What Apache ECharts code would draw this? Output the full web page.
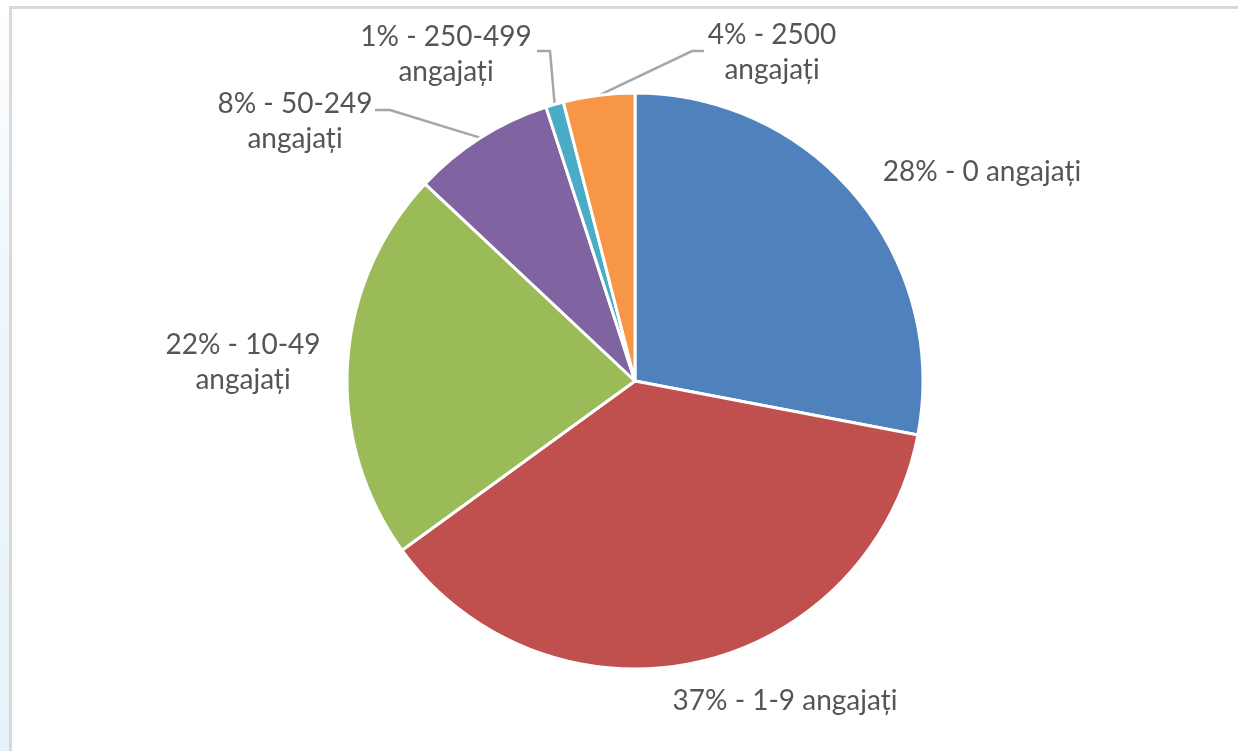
<!DOCTYPE html>
<html>
<head>
<meta charset="utf-8">
<script src="https://cdn.jsdelivr.net/npm/echarts@6/dist/echarts.min.js"></script>
<style>
  html, body { margin: 0; padding: 0; width: 1238px; height: 751px; overflow: hidden; background: #fff; }
  #strip { position: absolute; left: 0; top: 0; width: 9px; height: 751px;
           background: linear-gradient(to bottom, #ffffff 0%, #eef6fb 40%, #e6f2f9 100%); }
  #frame { position: absolute; left: 9px; top: 6px; width: 1229px; height: 745px;
           border-top: 3px solid #d9d9d9; border-left: 3px solid #d9d9d9; box-sizing: border-box; background: #fff; }
  #chart { position: absolute; left: 0; top: 0; width: 1238px; height: 751px; }
</style>
</head>
<body>
<div id="strip"></div>
<div id="frame"></div>
<div id="chart"></div>
<script>
// ---- data ----
const categories = ['0 angajați', '1-9 angajați', '10-49 angajați', '50-249 angajați', '250-499 angajați', '2500 angajați'];
const values = [28, 37, 22, 8, 1, 4];
const colors = ['#4f81bd', '#c0504d', '#9bbb59', '#8064a2', '#4bacc6', '#f79646'];
const wrapLabel = [false, false, true, true, true, true];

// ---- label layout config (label anchor, leader bend/end) ----
const labelPos = [
  { x: 982, y: 172 },
  { x: 785, y: 701 },
  { x: 243, y: 362 },
  { x: 295, y: 121, bend: [390, 110], end: [375, 110] },
  { x: 446, y: 54,  bend: [550, 51],  end: [537, 51] },
  { x: 772, y: 52,  bend: [692, 51],  end: [704, 51] }
];

const chart = echarts.init(document.getElementById('chart'), null, { renderer: 'canvas' });

const data = categories.map((c, i) => ({
  name: c,
  value: values[i],
  itemStyle: { color: colors[i] },
  labelLine: { show: !!labelPos[i].bend }
}));

chart.setOption({
  backgroundColor: 'transparent',
  animation: false,
  series: [{
    type: 'pie',
    center: [635, 381],
    radius: [0, 288],
    startAngle: 90,
    clockwise: true,
    avoidLabelOverlap: false,
    itemStyle: { borderColor: '#ffffff', borderWidth: 3 },
    label: {
      show: true,
      position: 'outside',
      color: '#555555',
      fontFamily: 'Lato',
      fontSize: 28,
      lineHeight: 35,
      align: 'center',
      formatter: function (p) {
        const i = p.dataIndex;
        const name = wrapLabel[i] ? categories[i].replace(' ', '\n') : categories[i];
        return values[i] + '% - ' + name;
      }
    },
    labelLine: {
      show: true,
      lineStyle: { color: '#a6a6a6', width: 2.5 },
      length: 10,
      length2: 10
    },
    labelLayout: function (params) {
      const i = params.dataIndex;
      const lp = labelPos[i];
      const out = { x: lp.x, y: lp.y, align: 'center', verticalAlign: 'middle' };
      if (lp.bend && params.labelLinePoints) {
        const p0 = params.labelLinePoints[0];
        out.labelLinePoints = [[p0[0], p0[1]], lp.bend, lp.end];
      }
      return out;
    },
    data: data
  }]
});
</script>
</body>
</html>
